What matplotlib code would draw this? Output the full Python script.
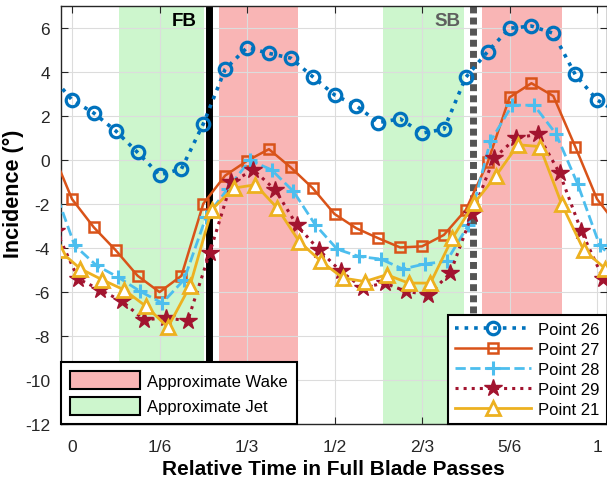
import numpy as np
import matplotlib
matplotlib.use("Agg")
import matplotlib.pyplot as plt
from matplotlib.patches import Patch

plt.rcParams["font.family"] = ["Liberation Sans", "DejaVu Sans"]
plt.rcParams["axes.unicode_minus"] = False

# --------------------------------------------------------------------------
# Data: incidence (deg) sampled every 1/24 of a blade pass (one period)
# --------------------------------------------------------------------------
series_names = ["Point 26", "Point 27", "Point 28", "Point 29", "Point 21"]
time_offsets = [0.0, 0.0, 0.005, 0.012, 0.016]

p26 = [2.74, 2.14, 1.33, 0.35, -0.67, -0.40, 1.65, 4.14, 5.12, 4.86, 4.64, 3.80,
       2.97, 2.47, 1.71, 1.88, 1.23, 1.41, 3.77, 4.94, 6.00, 6.10, 5.77, 3.90]
p27 = [-1.77, -3.06, -4.10, -5.26, -6.00, -5.26, -1.98, -0.70, -0.03, 0.50, -0.33, -1.27,
       -2.45, -3.10, -3.55, -3.97, -3.92, -3.40, -2.26, -0.10, 2.86, 3.50, 2.92, 0.62]
p28 = [-3.88, -4.79, -5.33, -5.97, -6.50, -5.44, -2.60, -1.30, 0.00, -0.44, -1.42, -2.94,
       -4.05, -4.38, -4.50, -4.95, -4.72, -4.60, -2.94, 0.85, 2.50, 2.50, 1.20, -1.10]
p29 = [-5.40, -5.90, -6.42, -7.26, -7.18, -7.30, -4.23, -1.00, -0.44, -1.35, -2.97, -4.08,
       -5.06, -5.80, -5.59, -5.97, -6.12, -5.14, -2.45, 0.09, 1.00, 1.18, -0.59, -3.24]
p21 = [-4.94, -5.44, -5.90, -6.65, -7.60, -5.74, -2.26, -1.27, -1.12, -2.18, -3.70, -4.60,
       -5.36, -5.52, -5.21, -5.59, -5.59, -3.55, -1.96, -0.70, 0.70, 0.62, -2.00, -4.08]
all_series = [p26, p27, p28, p29, p21]

wake_spans = [(0.279, 0.431), (0.780, 0.934)]
jet_spans = [(0.090, 0.251), (0.593, 0.747)]
fb_time = 0.261
sb_time = 0.764

xtick_vals = [0, 1 / 6, 1 / 3, 1 / 2, 2 / 3, 5 / 6, 1]
xtick_labels = ["0", "1/6", "1/3", "1/2", "2/3", "5/6", "1"]

# --------------------------------------------------------------------------
# Styles
# --------------------------------------------------------------------------
WAKE = "#F9B5B5"
JET = "#CDF6CD"
styles = [
    dict(color="#0072BD", ls=":", lw=2.6, marker="o", ms=9, mew=2.3, mfc="none"),
    dict(color="#D95319", ls="-", lw=1.8, marker="s", ms=7.5, mew=1.8, mfc="none"),
    dict(color="#4DBEEE", ls="--", lw=2.0, marker="+", ms=10, mew=2.2),
    dict(color="#A2142F", ls=":", lw=2.2, marker="*", ms=13, mew=1.0),
    dict(color="#EDB120", ls="-", lw=2.0, marker="^", ms=9.5, mew=2.0, mfc="white"),
]

fig = plt.figure(figsize=(6.07, 4.85), dpi=100)
ax = fig.add_axes([0.1005, 0.1237, 0.8987, 0.8613])

for a, b in wake_spans:
    ax.axvspan(a, b, color=WAKE, lw=0, zorder=0.2)
for a, b in jet_spans:
    ax.axvspan(a, b, color=JET, lw=0, zorder=0.2)

ax.axvline(fb_time, color="black", lw=5, zorder=1.5)
ax.axvline(sb_time, color="#555555", lw=5, ls=(0, (1.0, 0.6)), zorder=1.5)

idx = np.arange(-1, 26)
lines = []
for vals, off, name, st in zip(all_series, time_offsets, series_names, styles):
    v = np.asarray(vals)
    (ln,) = ax.plot(idx / 24 + off, v[idx % 24], label=name, zorder=3, **st)
    lines.append(ln)

ax.text(0.238, 6.35, "FB", ha="right", va="center", fontsize=13.5, fontweight="bold",
        color="black")
ax.text(0.739, 6.35, "SB", ha="right", va="center", fontsize=13.5, fontweight="bold",
        color="#5f5f5f")

ax.set_xlim(-0.021, 1.018)
ax.set_ylim(-12, 7)
ax.set_xticks(xtick_vals)
ax.set_xticklabels(xtick_labels)
ax.set_yticks(np.arange(-12, 7, 2))
ax.tick_params(direction="in", top=True, right=True, length=5, width=0.8,
               labelsize=12.5, colors="#262626")
ax.tick_params(axis="x", pad=11)
ax.tick_params(axis="y", pad=8)
ax.grid(True, color="#dcdcdc", lw=0.8)
ax.set_axisbelow(True)
for sp in ax.spines.values():
    sp.set_color("#262626")
    sp.set_linewidth(1.0)

ax.set_xlabel("Relative Time in Full Blade Passes", fontsize=15, fontweight="bold")
ax.xaxis.set_label_coords(0.5, -0.084)
ax.set_ylabel("Incidence (°)", fontsize=15.5, fontweight="bold")
ax.yaxis.set_label_coords(-0.068, 0.553)

leg1 = ax.legend(
    handles=[Patch(facecolor=WAKE, edgecolor="black", lw=1.5, label="Approximate Wake"),
             Patch(facecolor=JET, edgecolor="black", lw=1.5, label="Approximate Jet")],
    loc="lower left", borderaxespad=0, fontsize=12, handlelength=4.2, handleheight=1.3,
    handletextpad=0.4, labelspacing=0.45, borderpad=0.55, fancybox=False, framealpha=1,
    edgecolor="black")
leg1.get_frame().set_linewidth(1.5)
ax.add_artist(leg1)

leg2 = ax.legend(handles=lines, loc="lower right", borderaxespad=0, fontsize=12,
                 handlelength=4.6, handletextpad=0.4, labelspacing=0.3, borderpad=0.42,
                 fancybox=False, framealpha=1, edgecolor="black")
leg2.get_frame().set_linewidth(1.5)

fig.savefig("out.png", dpi=100)
